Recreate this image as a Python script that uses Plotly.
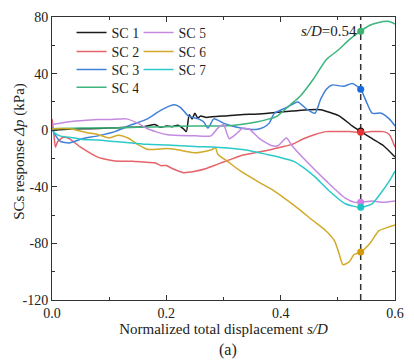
import plotly.graph_objects as go

# ---------------- data ----------------
sc1_x = [0, 0.02, 0.05, 0.08, 0.1, 0.13, 0.16, 0.18, 0.19, 0.2, 0.21, 0.22, 0.23, 0.235, 0.24, 0.245,
         0.25, 0.255, 0.26, 0.27, 0.28, 0.3, 0.33, 0.36, 0.39, 0.42, 0.45, 0.47, 0.49, 0.503, 0.525,
         0.54, 0.56, 0.58, 0.6]
sc1_y = [0, 0.5, 1, 1.2, 1.5, 2, 2.5, 4, 2, 3, 2.5, 3.5, 1, -1, 11, 8, 12, 8.5, 10, 9, 9.5, 10, 11,
         11.5, 12.5, 13.5, 14.5, 14.5, 12, 10, 3, -1, -6, -11, -19]

sc2_x = [0, 0.003, 0.006, 0.01, 0.02, 0.03, 0.05, 0.08, 0.1, 0.12, 0.14, 0.16, 0.18, 0.19, 0.2, 0.21,
         0.23, 0.25, 0.27, 0.29, 0.31, 0.33, 0.355, 0.38, 0.4, 0.42, 0.44, 0.46, 0.48, 0.5, 0.52, 0.54,
         0.56, 0.58, 0.59, 0.6]
sc2_y = [8, -2, -12, -8, -5, -6, -12, -19, -21, -22, -22, -22.5, -23, -25, -25, -27, -30, -29, -27,
         -24, -21, -18, -16, -14, -12, -10, -6, -3, -1, -1, -1, -1.5, -1, -1, -3, -12]

sc3_x = [0, 0.005, 0.015, 0.03, 0.053, 0.08, 0.11, 0.14, 0.167, 0.19, 0.205, 0.215, 0.225, 0.239,
         0.256, 0.265, 0.273, 0.283, 0.3, 0.315, 0.33, 0.357, 0.37, 0.38, 0.389, 0.41, 0.43, 0.445,
         0.46, 0.47, 0.48, 0.49, 0.51, 0.525, 0.54, 0.55, 0.56, 0.576, 0.59, 0.6]
sc3_y = [2, -3, -8, -9, -6, -4, -1, 4, 8, 14, 17, 18, 16, 10, 8, 6, 1.5, 8, 5, 3, 1.5, 0.5, 2, 5, 12,
         16, 20, 15, 12, 22, 29, 32, 31, 33, 29, 20, 12, 12, 8, 3]

sc4_x = [0, 0.05, 0.1, 0.15, 0.2, 0.25, 0.3, 0.33, 0.36, 0.38, 0.394, 0.417, 0.434, 0.457, 0.48,
         0.502, 0.52, 0.54, 0.555, 0.57, 0.588, 0.6]
sc4_y = [1, 1.5, 1.5, 2, 2.5, 3, 3, 4, 6, 8, 10, 18, 24, 36, 50, 57, 64, 70, 74, 76, 77, 75]

sc5_x = [0, 0.03, 0.06, 0.08, 0.1, 0.13, 0.15, 0.167, 0.2, 0.25, 0.278, 0.29, 0.3, 0.31, 0.324,
         0.334, 0.346, 0.363, 0.385, 0.395, 0.41, 0.42, 0.445, 0.48, 0.513, 0.53, 0.54, 0.56, 0.58, 0.6]
sc5_y = [4, 6, 7, 7.5, 7.5, 8, 5, 1, -3, -4, -4, 1.5, 4, -6, -2, 1.5, 0.5, -6, -11, -11, -5.5, -11,
         -22, -36, -48, -51, -51, -50, -51, -50]

sc6_x = [0, 0.03, 0.065, 0.08, 0.1, 0.116, 0.133, 0.15, 0.167, 0.2, 0.215, 0.235, 0.25, 0.278,
         0.286, 0.29, 0.307, 0.33, 0.363, 0.389, 0.423, 0.457, 0.479, 0.494, 0.502, 0.509, 0.52,
         0.528, 0.54, 0.556, 0.572, 0.585, 0.6]
sc6_y = [1, 1, -2, -3, -5.5, -3.5, -5.5, -10, -13.5, -13, -13.5, -15, -16, -14, -12.5, -17, -22, -29,
         -37, -43, -53, -64, -71, -78, -87, -95, -93, -88, -86, -80, -71, -69, -67]

sc7_x = [0, 0.005, 0.014, 0.03, 0.053, 0.08, 0.11, 0.14, 0.167, 0.2, 0.25, 0.307, 0.34, 0.363, 0.38,
         0.397, 0.423, 0.44, 0.46, 0.485, 0.513, 0.54, 0.56, 0.576, 0.59, 0.6]
sc7_y = [0, -2, -4, -5, -6.5, -7, -8, -9, -10, -10.5, -11.5, -12.5, -14, -16, -17.5, -19, -22, -26.5,
         -33, -43, -52, -54.5, -52, -44, -36, -29]

series_names = ["SC 1", "SC 2", "SC 3", "SC 4", "SC 5", "SC 6", "SC 7"]
line_colors = ["#1a1a1a", "#e4646a", "#4180d8", "#3cb47c", "#c48ae0", "#d2aa2a", "#2cc9c9"]

# values read at s/D = 0.54 (marker order: SC4, SC3, SC1, SC2, SC5, SC7, SC6)
marker_sd = 0.54
marker_names = ["SC 4", "SC 3", "SC 1", "SC 2", "SC 5", "SC 7", "SC 6"]
marker_vals = [70, 29, -0.5, -1.5, -51, -54.5, -86]
marker_colors = ["#3cb371", "#1a6ae0", "#111111", "#e53333", "#d17ee6", "#1cc4c4", "#d39b0f"]

y_tickvals = [-120, -80, -40, 0, 40, 80]
y_ticktext = ["-120", "-80", "-40", "0", "40", "80"]
x_tickvals = [0.0, 0.2, 0.4, 0.6]
x_ticktext = ["0.0", "0.2", "0.4", "0.6"]

# ---------------- figure ----------------
xs = [sc1_x, sc2_x, sc3_x, sc4_x, sc5_x, sc6_x, sc7_x]
ys = [sc1_y, sc2_y, sc3_y, sc4_y, sc5_y, sc6_y, sc7_y]
# legend rows (two columns): SC1|SC5, SC2|SC6, SC3|SC7, SC4
legend_of = ["legend", "legend2", "legend3", "legend4", "legend", "legend2", "legend3"]

FONT = "Liberation Serif"
fig = go.Figure()
for name, x, y, c, lg in zip(series_names, xs, ys, line_colors, legend_of):
    fig.add_trace(go.Scatter(
        x=x, y=y, mode="lines", name=name,
        line=dict(color=c, width=1.5, shape="spline", smoothing=0.6),
        legend=lg,
    ))

for n, v, c in zip(marker_names, marker_vals, marker_colors):
    fig.add_trace(go.Scatter(
        x=[marker_sd], y=[v], mode="markers", showlegend=False, name=n,
        marker=dict(color=c, size=7, line=dict(width=0)),
    ))

fig.add_shape(type="line", xref="x", yref="paper", x0=marker_sd, x1=marker_sd, y0=0, y1=1,
              line=dict(color="#333333", width=1.5, dash="6px,4px"), layer="below")

fig.add_annotation(x=0.484, y=70, xref="x", yref="y", text="<i>s/D</i>=0.54",
                   showarrow=False, font=dict(family=FONT, size=15, color="#222"))
fig.add_annotation(x=0.514, y=-0.175, xref="paper", yref="paper", text="(a)",
                   showarrow=False, font=dict(family=FONT, size=16, color="#222"),
                   yanchor="middle")
# y-axis title placed close to the tick labels, as in the reference
fig.add_annotation(x=-0.097, y=0.526, xref="paper", yref="paper",
                   text="SCs response <i>Δp</i> (kPa)", textangle=-90,
                   showarrow=False, font=dict(family=FONT, size=15, color="#222"),
                   xanchor="center", yanchor="middle")

axis_common = dict(
    showline=True, linecolor="#333333", linewidth=1, mirror="allticks",
    ticks="inside", ticklen=5, tickwidth=1, tickcolor="#333333",
    showgrid=False, zeroline=False,
    tickfont=dict(family=FONT, size=14, color="#222"),
)

fig.update_xaxes(
    range=[0, 0.6], tickvals=x_tickvals, ticktext=x_ticktext,
    minor=dict(dtick=0.1, ticklen=3, ticks="inside", tickcolor="#333333", showgrid=False),
    title=dict(text="Normalized total displacement <i>s/D</i>",
               font=dict(family=FONT, size=15, color="#222"), standoff=2),
    **axis_common,
)
fig.update_yaxes(
    range=[-120, 80], tickvals=y_tickvals, ticktext=y_ticktext,
    minor=dict(dtick=20, ticklen=3, ticks="inside", tickcolor="#333333", showgrid=False),
    **axis_common,
)

legend_common = dict(
    bgcolor="rgba(0,0,0,0)", borderwidth=0, orientation="h",
    entrywidth=22, entrywidthmode="pixels",
    font=dict(family=FONT, size=14, color="#222"),
    xanchor="left", yanchor="top", x=0.057,
)
fig.update_layout(
    width=414, height=363,
    margin=dict(l=52, r=10, t=15, b=63),
    paper_bgcolor="white", plot_bgcolor="white",
    font=dict(family=FONT, size=14, color="#222"),
    legend=dict(y=1.0, **legend_common),
    legend2=dict(y=0.933, **legend_common),
    legend3=dict(y=0.870, **legend_common),
    legend4=dict(y=0.807, **legend_common),
)

fig.write_html("out.html")
